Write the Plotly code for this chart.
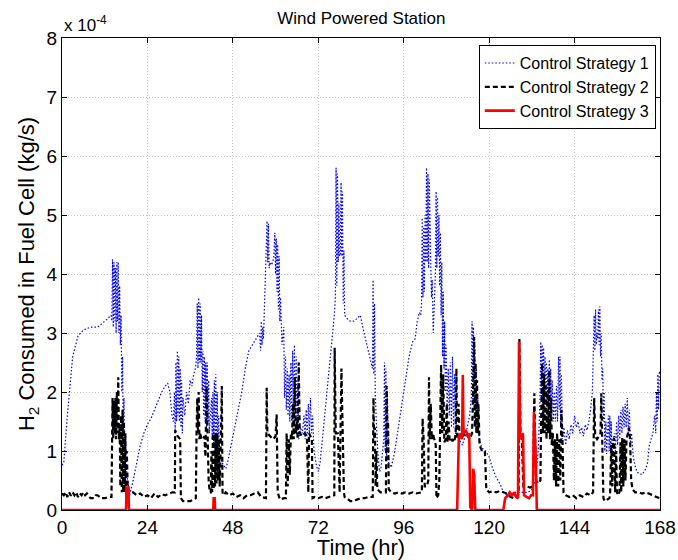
import plotly.graph_objects as go

# Units: 1e-4 kg/s ; time in hours
x_ticks = [0, 24, 48, 72, 96, 120, 144, 168]
y_ticks = [0, 1, 2, 3, 4, 5, 6, 7, 8]

strategy1 = [
    (0, 0.76), (0.5, 0.8), (1.5, 1.6), (3, 2.6), (4.5, 2.95), (6, 3.05), (8, 3.1), (10, 3.1),
    (12, 3.2), (13.8, 3.3),
    (14.0, 3.2), (14.2, 4.25), (14.4, 3.1), (14.6, 4.2), (14.8, 3.2), (15.0, 4.1), (15.2, 3.0),
    (15.4, 4.2), (15.6, 3.2), (15.8, 4.2), (16.0, 3.0), (16.2, 3.8), (16.4, 2.8), (16.6, 3.3),
    (16.8, 2.0), (17.0, 2.6), (17.2, 1.3), (17.4, 1.9), (17.6, 0.9), (17.8, 1.2), (18.2, 0.6),
    (18.6, 0.4), (19.0, 0.25),
    (20, 0.5), (21, 0.8), (22, 1.1), (23, 1.3), (24, 1.45), (25, 1.55), (26, 1.7), (27, 1.85),
    (28, 2.0), (29, 2.1), (29.7, 2.15), (30.3, 2.0), (30.9, 1.6), (31.3, 1.5),
    (31.6, 2.0), (31.8, 1.3), (32.0, 2.5), (32.2, 1.5), (32.4, 2.7), (32.6, 1.6), (32.8, 2.6),
    (33.0, 1.5), (33.2, 2.4), (33.4, 1.4), (33.6, 2.2), (33.8, 1.3), (34.0, 1.9),
    (34.5, 1.6), (35, 2.0), (35.5, 1.8), (36, 2.2), (36.5, 2.1), (37, 2.3), (37.5, 2.4),
    (37.8, 2.6), (38.0, 3.5), (38.2, 2.4), (38.4, 3.6), (38.6, 2.5), (38.8, 3.5), (39.0, 2.5),
    (39.2, 3.3), (39.4, 2.0),
    (39.6, 2.7), (39.8, 1.6), (40.0, 2.6), (40.2, 1.5), (40.4, 2.5), (40.6, 1.4), (40.8, 2.5),
    (41.0, 1.5), (41.2, 2.2), (41.4, 1.3),
    (42.0, 1.9), (42.2, 1.2), (42.4, 2.0), (42.6, 1.1), (42.8, 2.2), (43.0, 1.0), (43.2, 2.3),
    (43.4, 1.0), (43.6, 2.0), (43.8, 0.9), (44.0, 1.6), (44.3, 0.9),
    (45, 0.8), (46, 0.7), (46.5, 0.8), (47.5, 1.1), (48.5, 1.4), (49.5, 1.7), (50.5, 2.0),
    (51.5, 2.4), (52.5, 2.7), (53.5, 2.8), (54.5, 2.9), (55.5, 3.0),
    (55.8, 2.7), (56.0, 3.2), (56.2, 2.8), (56.4, 3.1), (56.6, 2.9), (56.8, 3.3), (57.0, 3.3),
    (57.6, 4.9), (57.8, 4.2), (58.0, 4.85), (58.2, 4.1), (58.4, 4.2), (58.8, 4.15), (59.2, 4.2),
    (59.5, 4.3), (59.8, 4.7), (60.0, 4.0), (60.2, 4.6), (60.4, 3.7), (60.6, 4.5), (60.8, 3.4),
    (61.0, 4.3), (61.2, 3.2), (61.4, 3.6), (61.8, 2.8),
    (62.3, 3.1), (62.5, 1.9), (62.8, 2.6), (63.0, 1.7), (63.3, 2.4), (63.5, 1.6), (63.8, 2.3),
    (64.0, 1.5), (64.3, 2.5), (64.5, 1.5), (64.8, 2.7), (65.0, 1.6), (65.3, 2.8), (65.5, 1.5),
    (65.8, 2.6), (66.0, 1.3), (66.3, 2.2), (66.5, 1.2),
    (67, 1.4), (67.5, 1.3), (68, 1.6), (68.3, 1.2), (68.6, 1.7), (68.9, 1.25), (69.2, 1.8),
    (69.5, 1.3), (69.8, 1.9), (70.1, 1.3), (70.4, 1.6), (70.8, 1.0), (71.5, 0.75), (72, 0.65),
    (72.5, 0.8), (73, 1.1), (74, 1.7), (75, 2.3), (76, 2.9), (76.5, 3.3),
    (76.8, 3.6), (77.0, 5.8), (77.2, 3.8), (77.4, 5.7), (77.6, 4.2), (77.8, 5.2), (78.0, 4.3),
    (78.2, 4.35), (78.4, 5.55), (78.6, 4.3), (78.8, 5.4), (79.0, 3.5), (79.2, 4.4), (79.4, 3.3),
    (80, 3.25), (81, 3.2), (82, 3.2), (83, 3.25), (83.8, 3.3), (84.5, 3.1), (85.5, 2.85),
    (86.5, 2.6), (87.2, 2.4),
    (87.4, 3.9), (87.6, 2.3), (87.8, 3.5), (88.0, 2.0), (88.3, 1.5), (88.7, 1.0), (89.2, 0.65),
    (89.6, 0.7),
    (90.4, 1.2), (90.6, 2.5), (90.8, 1.0), (91.0, 2.4), (91.2, 0.9), (91.4, 2.0), (91.8, 0.8),
    (92.5, 0.72), (93.5, 1.0), (94.5, 1.4), (95.5, 1.8), (96.5, 2.2), (97.5, 2.6), (98.5, 2.85),
    (99.2, 2.9), (99.8, 3.2), (100.4, 3.35), (100.8, 3.3),
    (101.0, 3.5), (101.2, 4.95), (101.4, 3.6), (101.6, 4.8), (101.8, 3.7), (102.0, 5.0),
    (102.2, 4.2), (102.4, 5.8), (102.6, 4.2), (102.8, 5.7), (103.0, 4.1), (103.2, 5.6),
    (103.4, 4.5), (103.6, 4.2), (103.8, 3.6), (104.0, 3.9), (104.3, 3.0), (104.6, 3.6),
    (104.9, 4.0), (105.1, 5.4), (105.3, 4.1), (105.5, 5.3), (105.7, 4.3), (105.9, 5.0),
    (106.1, 3.8), (106.3, 4.7), (106.5, 3.3), (106.7, 4.2), (106.9, 2.6), (107.1, 3.7),
    (107.3, 2.4), (107.5, 3.2), (107.7, 2.0), (107.9, 2.8), (108.2, 1.7), (108.5, 2.4),
    (108.8, 1.6), (109.1, 2.5), (109.4, 1.4), (109.7, 2.6), (110.0, 1.4), (110.3, 2.3),
    (110.6, 1.3), (111, 1.3), (111.5, 1.2), (112.5, 1.1), (113.5, 1.3), (114.5, 1.6),
    (115.0, 1.9), (115.2, 3.2), (115.4, 1.8), (115.6, 3.1), (115.8, 1.7), (116.0, 2.8),
    (116.2, 1.5), (116.4, 2.4), (116.6, 1.3), (116.8, 1.9), (117.2, 1.2),
    (118, 1.05), (119, 1.0), (120, 0.9), (121, 0.7), (122, 0.55), (123, 0.45), (124, 0.3),
    (125, 0.25), (126, 0.25), (127, 0.3), (128, 0.3), (129, 0.3), (130, 0.3), (131, 0.3),
    (132, 0.35), (133, 0.5), (133.8, 1.0),
    (134.3, 1.9), (134.5, 2.85), (134.7, 1.9), (134.9, 2.8), (135.1, 1.8), (135.3, 2.75),
    (135.5, 1.9), (135.7, 2.6), (135.9, 1.9), (136.1, 2.5), (136.3, 1.8), (136.5, 2.4),
    (136.7, 1.7), (136.9, 2.55), (137.1, 1.7), (137.3, 2.4), (137.5, 1.6), (137.7, 2.2),
    (138.0, 1.5), (138.3, 2.0), (138.6, 1.5), (138.9, 2.1), (139.2, 1.5), (139.5, 2.6),
    (139.7, 1.7), (139.9, 2.6), (140.1, 1.4), (140.3, 2.3), (140.6, 1.2), (141, 1.4),
    (141.5, 1.1), (142, 1.35), (142.5, 1.2), (143, 1.45), (143.5, 1.3), (144, 1.6), (144.5, 1.4),
    (145, 1.5), (145.5, 1.3), (146, 1.4), (146.5, 1.25), (147, 1.45), (147.5, 1.35), (148, 1.5),
    (148.5, 1.7), (149, 2.0),
    (149.3, 2.6), (149.5, 3.3), (149.7, 2.7), (149.9, 3.4), (150.1, 2.8), (150.3, 3.0),
    (150.5, 2.9), (150.7, 3.4), (150.9, 2.8), (151.1, 3.45), (151.3, 2.6), (151.5, 3.0),
    (151.7, 2.2), (151.9, 2.4), (152.1, 1.5), (152.3, 2.0), (152.5, 1.0), (152.8, 1.5),
    (153.0, 0.95), (153.5, 1.6), (153.7, 1.0), (153.9, 1.6), (154.1, 1.0), (154.3, 1.5),
    (154.5, 0.95), (154.8, 1.2), (155.2, 1.3), (155.5, 1.0), (155.8, 1.5), (156.1, 1.1),
    (156.4, 1.6), (156.7, 1.2), (157.0, 1.7), (157.3, 1.3), (157.6, 1.75), (157.9, 1.4),
    (158.2, 1.8), (158.5, 1.4), (158.8, 1.9), (159.1, 1.3), (159.4, 1.7), (159.7, 1.1),
    (160, 1.3), (160.5, 0.9), (161, 0.75), (161.5, 0.65), (162, 0.62), (163, 0.6), (164, 0.7),
    (164.5, 0.8), (165, 1.1), (165.5, 1.2), (166, 1.3), (166.5, 1.6), (166.8, 1.3),
    (167.0, 2.0), (167.2, 1.5), (167.4, 2.3), (167.6, 1.7), (167.8, 2.35), (168, 2.3),
]

strategy2 = [
    (0, 0.28), (0.5, 0.25), (1, 0.3), (1.5, 0.22), (2, 0.3), (2.5, 0.24), (3, 0.3), (3.5, 0.25),
    (4, 0.3), (4.5, 0.22), (5, 0.28), (5.5, 0.25), (6, 0.3), (6.5, 0.25), (7, 0.28), (7.5, 0.24),
    (8, 0.2), (9, 0.2), (9.5, 0.25), (10, 0.25), (11, 0.2), (12, 0.2), (13, 0.22), (13.9, 0.22),
    (14.0, 1.2), (14.2, 1.9), (14.4, 1.2), (14.6, 1.85), (14.8, 1.3), (15.0, 1.9), (15.2, 1.2),
    (15.4, 2.0), (15.6, 1.3), (15.8, 2.25), (16.0, 1.2), (16.2, 1.4), (16.4, 0.4), (16.6, 1.6),
    (16.8, 0.3), (17.0, 1.7), (17.2, 0.3), (17.4, 1.5), (17.6, 0.3), (17.8, 1.3), (18.0, 0.25),
    (18.2, 1.0), (18.5, 0.3),
    (19, 0.3), (20, 0.3), (21, 0.25), (22, 0.28), (23, 0.22), (24, 0.25), (25, 0.2), (26, 0.28),
    (27, 0.22), (28, 0.27), (29, 0.25), (30, 0.28), (31, 0.3), (31.7, 0.3),
    (31.8, 1.35), (32.5, 1.25), (33.2, 1.2), (33.4, 0.2), (34, 0.15), (35, 0.15), (36, 0.15),
    (37, 0.18), (37.6, 0.2),
    (37.8, 1.3), (38.0, 1.9), (38.2, 1.3), (38.4, 2.0), (38.6, 1.2), (38.8, 1.3), (39.2, 1.2),
    (39.6, 1.2), (40.0, 1.25), (40.3, 0.9), (40.6, 2.1), (40.8, 1.3), (41.0, 1.2), (41.2, 0.5),
    (41.5, 0.3), (41.8, 0.3),
    (42.0, 1.0), (42.2, 0.3), (42.4, 1.3), (42.6, 0.35), (42.8, 1.3), (43.0, 0.4), (43.2, 1.3),
    (43.4, 0.45), (43.6, 1.3), (43.8, 0.5), (44.0, 1.2), (44.3, 0.4), (44.6, 1.1), (44.9, 2.1),
    (45.1, 0.3), (45.4, 0.25),
    (46, 0.3), (47, 0.25), (48, 0.28), (49, 0.22), (50, 0.25), (51, 0.2), (52, 0.25), (53, 0.25),
    (54, 0.28), (55, 0.3), (56, 0.22), (57.3, 0.2),
    (57.5, 2.07), (57.7, 1.3), (58.5, 1.25), (59.3, 1.2), (60.0, 1.25), (60.3, 1.62), (60.6, 0.3),
    (61.2, 0.18), (62.5, 0.2), (62.9, 0.2),
    (63.1, 1.3), (63.4, 0.4), (63.7, 1.2), (64.0, 0.6), (64.3, 1.3), (64.6, 1.2), (64.9, 1.8),
    (65.1, 1.2), (65.4, 2.25), (65.7, 1.3), (66.0, 1.5), (66.2, 1.2), (66.5, 2.5), (66.8, 1.3),
    (67.5, 1.25), (68.2, 1.3), (68.8, 1.25), (69.2, 0.3), (69.4, 1.3), (70.2, 1.2), (70.4, 0.2),
    (71, 0.22), (72, 0.2), (73, 0.22), (74, 0.2), (75, 0.22), (76, 0.25), (76.5, 0.25),
    (76.6, 2.75), (76.9, 1.3), (77.5, 1.3), (78.0, 0.3), (78.5, 2.4), (78.8, 1.2), (79.2, 0.3),
    (79.4, 0.22), (80, 0.2), (81, 0.15), (82, 0.15), (83, 0.18), (84, 0.2), (85, 0.2),
    (86, 0.22), (87.3, 0.22),
    (87.5, 1.9), (87.7, 1.2), (87.9, 1.4), (88.1, 0.4), (88.3, 1.0), (88.6, 0.35), (89.5, 0.3),
    (91.0, 0.3), (91.2, 2.1), (91.4, 1.3), (91.6, 1.5), (91.8, 0.35),
    (92.5, 0.3), (93.5, 0.28), (94.5, 0.3), (95.5, 0.28), (96.5, 0.3), (97.5, 0.28), (98.5, 0.3),
    (99.5, 0.28), (100.5, 0.3), (101.1, 0.3),
    (101.3, 1.55), (101.6, 1.2), (101.9, 0.4), (102.5, 0.4), (102.9, 0.5), (103.1, 2.25),
    (103.3, 1.2), (103.6, 1.8), (103.9, 1.2), (104.2, 1.3), (104.6, 1.2), (105.0, 1.1),
    (105.2, 0.2), (105.7, 0.25), (106.0, 0.5), (106.2, 1.2), (106.5, 2.46), (106.8, 1.3),
    (107.1, 2.3), (107.4, 1.15), (107.8, 1.2), (108.1, 1.8), (108.3, 1.15), (108.6, 1.5),
    (108.9, 1.2), (109.3, 1.15), (109.6, 1.2), (110.2, 1.15), (110.6, 1.3), (110.8, 2.4),
    (111.0, 1.2), (111.4, 1.8), (111.7, 1.2), (112.5, 1.25), (113.5, 1.3), (114.5, 1.2),
    (115.2, 1.3), (115.5, 2.0), (115.8, 2.93), (116.0, 1.4), (116.2, 2.5), (116.4, 1.3),
    (116.6, 2.2), (116.8, 1.3), (117.0, 1.8), (117.3, 1.1), (118, 1.0), (118.8, 1.0),
    (119.2, 0.35), (120, 0.3), (121, 0.32), (122, 0.3), (123, 0.32), (124, 0.3), (125, 0.28),
    (126, 0.22), (127, 0.2), (128, 0.22), (128.3, 0.3),
    (128.5, 2.9), (128.8, 1.3), (129.2, 1.2), (129.6, 0.4), (130.5, 0.4), (131.5, 0.38),
    (132.3, 0.4), (132.5, 1.5), (132.7, 1.98), (132.9, 1.3), (133.2, 0.5), (133.8, 0.45),
    (134.4, 0.5), (134.6, 1.5), (134.9, 2.49), (135.1, 1.3), (135.4, 2.3), (135.6, 1.3),
    (135.9, 2.1), (136.1, 1.2), (136.4, 2.0), (136.6, 1.3), (136.9, 2.37), (137.1, 1.2),
    (137.4, 1.9), (137.6, 1.1), (137.9, 1.3), (138.2, 0.5), (138.5, 1.2), (138.8, 0.4),
    (139.1, 1.3), (139.4, 0.4), (139.7, 1.2), (140.0, 0.5), (140.3, 1.7), (140.6, 1.2),
    (140.9, 0.3), (141.5, 0.25), (142.5, 0.22), (143.5, 0.25), (144.5, 0.2), (145.5, 0.25),
    (146.5, 0.22), (147.5, 0.28), (148.5, 0.25), (149.2, 0.3),
    (149.5, 1.9), (149.8, 1.25), (150.3, 1.2), (150.9, 1.25), (151.3, 1.3), (151.5, 1.98),
    (151.8, 1.2), (152.1, 0.2), (152.5, 0.15), (153.2, 0.18), (153.8, 0.2), (154.0, 0.3),
    (154.3, 1.1), (154.6, 0.4), (154.8, 1.15), (155.1, 1.22), (155.4, 0.3), (155.7, 1.0),
    (155.9, 0.3), (156.2, 0.25), (156.6, 0.3), (156.9, 1.15), (157.1, 0.3), (157.4, 1.22),
    (157.7, 0.4), (158.0, 1.2), (158.3, 0.5), (158.6, 1.2), (158.9, 1.3), (159.3, 1.39),
    (159.6, 1.2), (159.9, 0.5), (160.3, 0.35), (161, 0.3), (162, 0.3), (163, 0.28), (164, 0.3),
    (165, 0.28), (166, 0.25), (167, 0.22), (168, 0.2),
]

strategy3 = [
    (0, 0.0), (18.0, 0.0), (18.1, 0.38), (18.7, 0.38), (18.8, 0.0),
    (42.5, 0.0), (42.6, 0.2), (42.9, 0.2), (43.0, 0.0),
    (111.0, 0.0), (111.5, 1.25), (112.0, 1.3), (112.4, 1.2), (112.6, 2.29), (112.8, 1.3),
    (113.5, 1.35), (114.0, 1.25), (114.4, 1.3), (114.7, 0.05), (115.2, 0.0), (115.5, 0.7),
    (115.8, 0.6), (116.1, 0.0),
    (124.0, 0.0), (124.5, 0.2), (125.3, 0.25), (125.8, 0.3), (126.5, 0.25), (127.0, 0.3),
    (127.6, 0.22), (128.1, 0.2), (128.4, 2.85), (128.7, 1.2), (129.2, 1.25), (129.5, 1.3),
    (129.8, 0.25), (130.5, 0.22), (131.2, 0.2), (131.8, 0.25), (132.3, 0.25), (132.6, 1.66),
    (132.9, 1.3), (133.1, 0.9), (133.4, 0.0), (168, 0.0),
]

series_names = ["Control Strategy 1", "Control Strategy 2", "Control Strategy 3"]

fig = go.Figure()

def add(points, name, color, width, dash):
    fig.add_trace(go.Scatter(
        x=[p[0] for p in points], y=[p[1] for p in points], mode="lines", name=name,
        line=dict(color=color, width=width, dash=dash), hoverinfo="skip"))

add(strategy1, series_names[0], "#0000FF", 1.2, "1.5px,2px")
add(strategy2, series_names[1], "#000000", 2.2, "5px,3px")
add(strategy3, series_names[2], "#FF0000", 2.6, "solid")

font_family = "Liberation Sans, Arial, Helvetica, sans-serif"
axis_common = dict(
    showline=True, linecolor="#000", linewidth=1, mirror="ticks", ticks="inside",
    ticklen=5, tickcolor="#000", showgrid=True, gridcolor="#c4c4c4", griddash="1px,2px",
    gridwidth=1, zeroline=False, tickfont=dict(size=19, color="#000"), automargin=False,
)

fig.update_layout(
    width=678, height=560,
    paper_bgcolor="white", plot_bgcolor="white",
    margin=dict(l=62, r=18, t=38, b=50),
    font=dict(family=font_family, color="#000"),
    title=dict(text="Wind Powered Station", x=0.533, xanchor="center", y=0.968, yanchor="middle",
               font=dict(size=17, color="#000")),
    xaxis=dict(range=[0, 168], tickvals=x_ticks, ticktext=[str(v) for v in x_ticks],
               title=dict(text="Time (hr)", font=dict(size=22), standoff=0), **axis_common),
    yaxis=dict(range=[0, 8], tickvals=y_ticks, ticktext=[str(v) for v in y_ticks],
               title=dict(text="H<sub>2</sub> Consumed in Fuel Cell (kg/s)", font=dict(size=22),
                          standoff=5), **axis_common),
    legend=dict(x=0.993, y=0.985, xanchor="right", yanchor="top", bgcolor="white",
                bordercolor="#000", borderwidth=1, font=dict(size=16, color="#000"),
                tracegroupgap=0, itemwidth=30),
    showlegend=True,
)

fig.add_annotation(text="x 10<sup>-4</sup>", xref="paper", yref="paper", x=0, y=1.0,
                   xanchor="left", yanchor="bottom", showarrow=False, yshift=1,
                   font=dict(size=17, color="#000"))

fig.write_html("out.html")
